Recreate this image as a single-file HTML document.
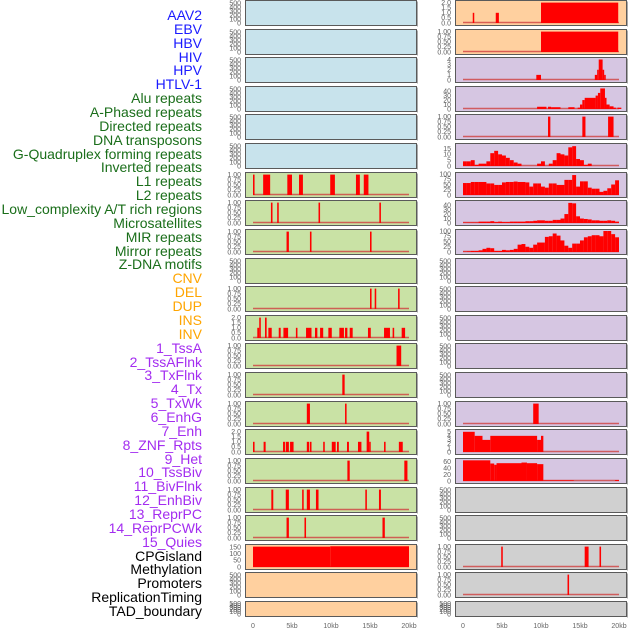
<!DOCTYPE html>
<html><head><meta charset="utf-8">
<style>
html,body{margin:0;padding:0;background:#fff;}
#wrap{position:relative;width:630px;height:630px;overflow:hidden;font-family:"Liberation Sans",sans-serif;}
.lab{position:absolute;right:428px;font-size:14px;line-height:14px;white-space:nowrap;}
</style></head>
<body>
<div id="wrap">
<svg id="chart" width="630" height="630" style="position:absolute;left:0;top:0"></svg>
</div>
<script>
// ---- labels ----
const labelNames = ["AAV2","EBV","HBV","HIV","HPV","HTLV-1","Alu repeats","A-Phased repeats","Directed repeats","DNA transposons","G-Quadruplex forming repeats","Inverted repeats","L1 repeats","L2 repeats","Low_complexity A/T rich regions","Microsatellites","MIR repeats","Mirror repeats","Z-DNA motifs","CNV","DEL","DUP","INS","INV","1_TssA","2_TssAFlnk","3_TxFlnk","4_Tx","5_TxWk","6_EnhG","7_Enh","8_ZNF_Rpts","9_Het","10_TssBiv","11_BivFlnk","12_EnhBiv","13_ReprPC","14_ReprPCWk","15_Quies","CPGisland","Methylation","Promoters","ReplicationTiming","TAD_boundary"];
const labelGroups = [6,13,5,15,5];
const groupColors = ["#1a1aff","#1a6e1a","#ffa500","#a32cf0","#000000"];

// ---- x axis ----
const xTickValues = [0,5,10,15,20];
const xTickLabels = ["0","5kb","10kb","15kb","20kb"];

// ---- left column data (segments: [startKb, endKb, value]) ----
const leftRow6 = [[0,0.2,1],[1.3,2.2,1],[4.4,5.0,1],[5.9,6.4,1],[9.9,10.5,1],[13.2,13.7,1],[14.2,14.8,1]];
const leftRow7 = [[2.3,2.5,1],[3.1,3.3,1],[8.4,8.6,1],[16.2,16.4,1]];
const leftRow8 = [[4.3,4.6,1],[7.3,7.5,1],[15.0,15.2,1]];
const leftRow10 = [[15.0,15.2,1],[15.6,15.8,1],[18.6,18.8,1]];
const leftRow11 = [[0.55,0.8,1],[0.8,1.0,2],[1.54,1.75,2],[1.97,2.4,1],[3.3,3.55,1],[3.9,4.5,1],[5.5,5.7,1],[6.8,7.5,1],[7.95,8.25,1],[8.6,9.0,1],[9.66,10.1,1],[11.07,11.66,1],[11.8,12.1,1],[12.4,12.78,1],[14.74,15.1,1],[16.8,17.56,1],[17.9,18.1,1],[19.06,19.5,1]];
const leftRow12 = [[18.4,19.0,1]];
const leftRow13 = [[11.45,11.75,1]];
const leftRow14 = [[6.9,7.3,1],[11.8,12.0,1]];
const leftRow15 = [[0,0.2,1],[1.36,1.62,1],[3.85,4.1,1],[4.2,4.6,1],[4.75,5.2,1],[6.9,7.2,1],[7.3,7.5,1],[9.0,9.2,1],[10.1,10.6,1],[10.77,11.0,1],[12.05,12.3,1],[13.46,13.9,1],[14.57,14.9,2],[14.9,15.05,1],[16.8,17.0,1],[18.7,19.2,1]];
const leftRow16 = [[12.1,12.4,1],[19.4,19.8,1]];
const leftRow17 = [[2.35,2.6,1],[4.2,4.6,1],[6.3,6.5,1],[6.9,7.3,1],[8.07,8.4,1],[14.4,14.6,1],[16.15,16.4,1]];
const leftRow18 = [[4.3,4.6,1],[6.6,6.8,1],[16.6,16.9,1]];
const leftRow19 = [[0,9.9,155],[9.9,20,158]];

// ---- right column data ----
const rightRow0 = [[1.25,1.4,1],[4.2,4.6,1],[10,19.9,2]];
const rightRow1 = [[10,19.9,1]];
const rightRow2 = [[9.4,10.0,1],[16.9,17.2,1],[17.2,17.4,2],[17.4,17.9,4],[17.9,18.1,2],[18.1,18.3,1]];
const rightRow3 = [[9.5,10.7,5],[10.9,11.3,5],[11.3,12.5,4],[13.5,14.3,4],[14.7,15.0,3],[15.0,15.3,10],[15.3,15.6,20],[15.6,17.0,25],[17.0,17.3,30],[17.3,17.6,36],[17.6,18.2,46],[18.2,18.4,25],[18.4,18.8,10],[18.8,19.3,6],[19.3,19.6,3],[19.8,20.3,3]];
const rightRow4 = [[10.9,11.2,1],[15.3,15.7,1],[18.6,19.3,1]];
const rightGquadBins = [4,4,5,1,2,2,4,11,13,10,9,7,5,3,2,0,0,0,0,2,4,0,2,5,11,10,9,16,17,6,5,1,2,0,0,0,0,0,0,0];
const rightL1Bins = [57,57,62,62,62,62,55,55,48,48,60,62,62,64,62,62,60,40,55,55,40,35,55,55,48,48,72,72,95,40,65,65,35,30,30,15,20,32,50,70];
const rightMicroBins = [1,1,1,1,3,3,3,4,2,3,2,2,3,3,3,3,4,4,5,6,6,5,5,7,7,10,20,45,44,15,10,9,8,6,6,5,5,6,5,3];
const rightMirrorBins = [2,3,5,5,8,15,20,18,5,5,10,8,10,15,35,38,25,20,35,45,45,72,75,88,78,55,30,20,40,40,55,70,75,80,80,75,100,100,85,70];
const rightRow14 = [[9.0,9.7,1]];
const rightRow15 = [[0,1.5,5],[1.5,2.5,4],[2.5,3.5,3],[3.5,9.5,4],[9.5,10.0,3],[10.0,10.3,4]];
const rightRow16 = [[0,3.5,65],[3.5,4.0,55],[4.0,4.3,51],[4.3,7.5,56],[7.5,8.2,58],[8.2,9.5,56],[9.5,10.3,53],[10.3,14.2,2],[19.5,20,3]];
const rightRow19 = [[4.9,5.1,1],[15.6,16.1,1],[17.5,17.7,1]];
const rightRow20 = [[13.4,13.6,1]];

const T500=[0,100,200,300,400,500], T1=[0,0.25,0.5,0.75,1], T2=[0,0.5,1,1.5,2];
const F1=v=>v.toFixed(2), F2=v=>v.toFixed(1), FI=v=>String(v);
const BLUE="#c8e3ec", GREEN="#c9e2a5", ORANGE="#ffd09f", PURPLE="#d6c6e2", GREY="#d0d0d0";

function bins(a){ return a.map((v,i)=>[i*0.5,(i+1)*0.5,v]); }
function emptyP(bg){ return {bg:bg, max:530, ticks:T500, fmt:FI, segs:null}; }

const leftPanels = [
 emptyP(BLUE),emptyP(BLUE),emptyP(BLUE),emptyP(BLUE),emptyP(BLUE),emptyP(BLUE),
 {bg:GREEN,max:1.03,ticks:T1,fmt:F1,segs:leftRow6},
 {bg:GREEN,max:1.03,ticks:T1,fmt:F1,segs:leftRow7},
 {bg:GREEN,max:1.03,ticks:T1,fmt:F1,segs:leftRow8},
 emptyP(GREEN),
 {bg:GREEN,max:1.03,ticks:T1,fmt:F1,segs:leftRow10},
 {bg:GREEN,max:2.06,ticks:T2,fmt:F2,segs:leftRow11},
 {bg:GREEN,max:1.03,ticks:T1,fmt:F1,segs:leftRow12},
 {bg:GREEN,max:1.03,ticks:T1,fmt:F1,segs:leftRow13},
 {bg:GREEN,max:1.03,ticks:T1,fmt:F1,segs:leftRow14},
 {bg:GREEN,max:2.06,ticks:T2,fmt:F2,segs:leftRow15},
 {bg:GREEN,max:1.03,ticks:T1,fmt:F1,segs:leftRow16},
 {bg:GREEN,max:1.03,ticks:T1,fmt:F1,segs:leftRow17},
 {bg:GREEN,max:1.03,ticks:T1,fmt:F1,segs:leftRow18},
 {bg:ORANGE,max:160,ticks:[0,50,100,150],fmt:FI,segs:leftRow19},
 emptyP(ORANGE),emptyP(ORANGE)
];
const rightPanels = [
 {bg:ORANGE,max:2.06,ticks:T2,fmt:F2,segs:rightRow0},
 {bg:ORANGE,max:1.03,ticks:T1,fmt:F1,segs:rightRow1},
 {bg:PURPLE,max:4.1,ticks:[0,1,2,3,4],fmt:FI,segs:rightRow2},
 {bg:PURPLE,max:47,ticks:[0,10,20,30,40],fmt:FI,segs:rightRow3},
 {bg:PURPLE,max:1.03,ticks:T1,fmt:F1,segs:rightRow4},
 {bg:PURPLE,max:18,ticks:[0,5,10,15],fmt:FI,segs:bins(rightGquadBins)},
 {bg:PURPLE,max:100,ticks:[0,25,50,75,100],fmt:FI,segs:bins(rightL1Bins)},
 {bg:PURPLE,max:47,ticks:[0,10,20,30,40],fmt:FI,segs:bins(rightMicroBins)},
 {bg:PURPLE,max:100,ticks:[0,25,50,75,100],fmt:FI,segs:bins(rightMirrorBins)},
 emptyP(PURPLE),emptyP(PURPLE),emptyP(PURPLE),emptyP(PURPLE),emptyP(PURPLE),
 {bg:PURPLE,max:1.03,ticks:T1,fmt:F1,segs:rightRow14},
 {bg:PURPLE,max:5.2,ticks:[0,1,2,3,4,5],fmt:FI,segs:rightRow15},
 {bg:PURPLE,max:66,ticks:[0,20,40,60],fmt:FI,segs:rightRow16},
 emptyP(GREY),emptyP(GREY),
 {bg:GREY,max:1.03,ticks:T1,fmt:F1,segs:rightRow19},
 {bg:GREY,max:1.03,ticks:T1,fmt:F1,segs:rightRow20},
 emptyP(GREY)
];

const NS="http://www.w3.org/2000/svg";
const svg=document.getElementById('chart');
function mk(tag,attrs,parent){const e=document.createElementNS(NS,tag);for(const k in attrs)e.setAttribute(k,attrs[k]);(parent||svg).appendChild(e);return e;}

// labels
const wrap=document.getElementById('wrap');
let li=0;
labelGroups.forEach((n,g)=>{for(let k=0;k<n;k++){
  const d=document.createElement('div');d.className='lab';
  d.style.top=(8+li*13.86)+'px';d.style.color=groupColors[g];
  d.textContent=labelNames[li];
  
  
  wrap.appendChild(d);li++;}});

function rowTop(i){return Math.round(i*28.62);}
function drawColumn(panels,x0,colName){
  const px0=x0+8, pxPerKb=7.8;
  const xs=kb=>px0+kb*pxPerKb;
  panels.forEach((p,i)=>{
    const top=rowTop(i)+0.5, h=(i===21?15:25);
    const base=top+h-2.5, plotH=h-4;
    const ys=v=>base-(v/p.max)*plotH;
    const g=mk('g',{});
    
    
    const r=mk('rect',{x:x0+0.5,y:top,width:171,height:h,fill:p.bg,stroke:'#5a5a5a','stroke-width':1},g);
    
    
    mk('line',{x1:x0+172.5,y1:top+1,x2:x0+172.5,y2:top+h+1,stroke:'#aaa','stroke-width':1},g);
    p.ticks.forEach(t=>{
      const tx=mk('text',{x:x0-4,y:ys(t)+2.3,'font-size':7,'text-anchor':'end',fill:'#606060','font-family':'Liberation Sans, sans-serif'},g);
      tx.textContent=p.fmt(t);
      
      
    });
    if(p.segs){
      const bl=mk('line',{x1:xs(0),x2:xs(20),y1:base-0.5,y2:base-0.5,stroke:'#d04040','stroke-width':1.5,'stroke-opacity':0.8},g);
      
      
      p.segs.forEach(s=>{
        if(s[2]<=0)return;
        const x1=xs(s[0]),x2=xs(s[1]);
        const b=mk('rect',{x:x1,y:ys(s[2]),width:Math.max(1.5,x2-x1),height:base-ys(s[2]),fill:'#ff0000'},g);
        
        
      });
    }
  });
  xTickValues.forEach((v,k)=>{
    const t=mk('text',{x:xs(v),y:628,'font-size':7,'text-anchor':'middle',fill:'#666','font-family':'Liberation Sans, sans-serif'});
    t.textContent=xTickLabels[k];
    
    
  });
}
drawColumn(leftPanels,245,'left');
drawColumn(rightPanels,455,'right');
</script>
</body></html>
